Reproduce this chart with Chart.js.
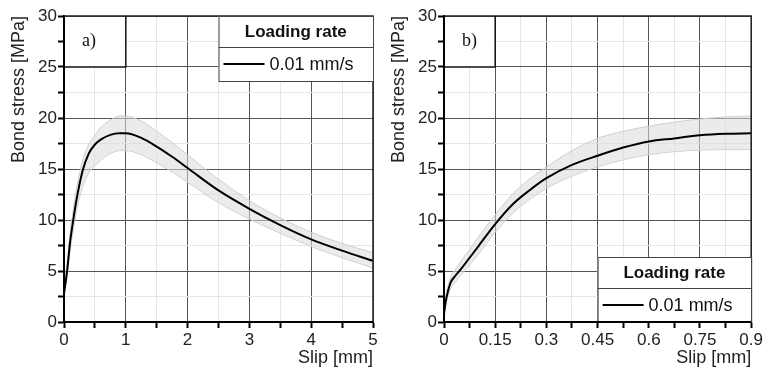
<!DOCTYPE html>
<html>
<head>
<meta charset="utf-8">
<script src="https://cdn.jsdelivr.net/npm/chart.js@4.4.0/dist/chart.umd.min.js"></script>
<style>
  body { margin: 0; background: #fff; }
  .wrap { display: flex; width: 765px; height: 370px; }
  canvas { display: block; }
</style>
</head>
<body>
<div class="wrap">
  <canvas id="chartA" width="380" height="370"></canvas>
  <canvas id="chartB" width="385" height="370"></canvas>
</div>
<script>
// panel a) - slip up to 5 mm
const slipA  = [0, 0.05, 0.1, 0.15, 0.2, 0.3, 0.4, 0.5, 0.6, 0.75, 0.9, 1.0, 1.25, 1.5, 1.75, 2.0, 2.5, 3.0, 3.5, 4.0, 4.5, 5.0];
const meanA  = [2.8, 5.0, 7.9, 10.0, 11.9, 14.8, 16.5, 17.4, 17.9, 18.35, 18.5, 18.5, 18.05, 17.2, 16.2, 15.1, 12.9, 11.1, 9.5, 8.1, 7.0, 6.0];
const upperA = [3.0, 5.8, 8.8, 11.0, 13.0, 15.8, 17.4, 18.3, 19.1, 19.8, 20.2, 20.2, 19.7, 18.7, 17.6, 16.4, 14.0, 11.9, 10.2, 8.8, 7.7, 6.8];
const lowerA = [2.6, 4.4, 7.0, 9.0, 10.8, 13.2, 14.6, 15.3, 15.9, 16.5, 16.8, 16.8, 16.4, 15.6, 14.7, 13.7, 11.7, 10.1, 8.7, 7.4, 6.3, 5.3];

// panel b) - slip up to 0.9 mm
const slipB  = [0, 0.005, 0.01, 0.02, 0.03, 0.05, 0.075, 0.1, 0.15, 0.2, 0.25, 0.3, 0.375, 0.45, 0.525, 0.6, 0.675, 0.75, 0.825, 0.9];
const meanB  = [0.8, 2.0, 2.8, 3.9, 4.4, 5.2, 6.3, 7.4, 9.6, 11.5, 12.9, 14.1, 15.4, 16.3, 17.1, 17.7, 18.0, 18.3, 18.45, 18.5];
const upperB = [1.0, 2.4, 3.3, 4.5, 5.0, 6.0, 7.1, 8.3, 10.5, 12.5, 14.0, 15.2, 16.8, 18.0, 18.7, 19.2, 19.6, 19.9, 20.1, 20.2];
const lowerB = [0.6, 1.6, 2.3, 3.3, 3.8, 4.6, 5.6, 6.6, 8.8, 10.6, 12.0, 13.1, 14.3, 15.2, 15.9, 16.4, 16.7, 16.85, 16.9, 16.9];

const legendTitle = 'Loading rate';
const legendLabel = '0.01 mm/s';
const xTitle = 'Slip [mm]';
const yTitle = 'Bond stress [MPa]';

const FONT = '"Liberation Sans", Arial, sans-serif';

const toPoints = (xs, ys) => xs.map((x, i) => ({x: x, y: ys[i]}));

const panelPlugin = {
  id: 'panel',
  afterDraw(chart, args, opts) {
    const {ctx, chartArea: area, scales} = chart;
    const xs = scales.x, ys = scales.y;
    ctx.save();

    // top + right frame
    ctx.strokeStyle = '#222';
    ctx.lineWidth = 1.5;
    ctx.beginPath();
    ctx.moveTo(area.left, area.top);
    ctx.lineTo(area.right, area.top);
    ctx.lineTo(area.right, area.bottom);
    ctx.stroke();

    // panel label cell
    const cx = xs.getPixelForValue(opts.cellX);
    const cy = ys.getPixelForValue(opts.cellY);
    ctx.fillStyle = '#fff';
    ctx.fillRect(area.left + 1, area.top + 1, cx - area.left - 1, cy - area.top - 1);
    ctx.strokeStyle = '#111';
    ctx.lineWidth = 1.5;
    ctx.beginPath();
    ctx.moveTo(area.left, cy);
    ctx.lineTo(cx, cy);
    ctx.lineTo(cx, area.top);
    ctx.stroke();
    ctx.fillStyle = '#111';
    ctx.font = '18px "Liberation Serif", serif';
    ctx.textAlign = 'left';
    ctx.textBaseline = 'middle';
    ctx.fillText(opts.label, area.left + 18, (area.top + cy) / 2);

    // legend box
    const lx = xs.getPixelForValue(opts.legendFrom);
    const h = 65, row = 31;
    const top = opts.legendAt === 'top' ? area.top : area.bottom - h;
    ctx.fillStyle = '#fff';
    ctx.fillRect(lx, top, area.right - lx, h);
    ctx.strokeStyle = '#444';
    ctx.lineWidth = 1;
    ctx.strokeRect(lx + 0.5, top + 0.5, area.right - lx, h);
    ctx.beginPath();
    ctx.moveTo(lx, top + row + 0.5);
    ctx.lineTo(area.right, top + row + 0.5);
    ctx.stroke();

    ctx.fillStyle = '#111';
    ctx.font = 'bold 17px ' + FONT;
    ctx.textAlign = 'center';
    ctx.fillText(legendTitle, (lx + area.right) / 2, top + row / 2 + 1);

    const ly = top + row + (h - row) / 2;
    ctx.strokeStyle = '#000';
    ctx.lineWidth = 2;
    ctx.beginPath();
    ctx.moveTo(lx + 5, ly);
    ctx.lineTo(lx + 46, ly);
    ctx.stroke();
    ctx.font = '18px ' + FONT;
    ctx.textAlign = 'left';
    ctx.fillText(legendLabel, lx + 51, ly + 1);

    // redraw axis lines on top
    ctx.strokeStyle = '#000';
    ctx.lineWidth = 2;
    ctx.beginPath();
    ctx.moveTo(area.left, area.top);
    ctx.lineTo(area.left, area.bottom);
    ctx.lineTo(area.right, area.bottom);
    ctx.stroke();
    ctx.restore();
  }
};

function makeChart(id, slip, mean, upper, lower, xOpts, panel, padRight) {
  const ctx = document.getElementById(id).getContext('2d');
  return new Chart(ctx, {
    type: 'line',
    data: {
      datasets: [{
        data: toPoints(slip, mean),
        borderColor: '#000',
        borderWidth: 2,
        pointRadius: 0,
        cubicInterpolationMode: 'monotone',
        fill: false
      }, {
        data: toPoints(slip, upper),
        borderColor: '#cfcfcf',
        borderWidth: 1,
        pointRadius: 0,
        cubicInterpolationMode: 'monotone',
        backgroundColor: 'rgba(218, 218, 218, 0.55)',
        fill: '+1'
      }, {
        data: toPoints(slip, lower),
        borderColor: '#cfcfcf',
        borderWidth: 1,
        pointRadius: 0,
        cubicInterpolationMode: 'monotone',
        fill: false
      }]
    },
    options: {
      responsive: false,
      animation: false,
      layout: { padding: { left: 0, right: padRight, top: 16, bottom: 0 } },
      plugins: {
        legend: { display: false },
        tooltip: { enabled: false },
        panel: panel
      },
      scales: {
        x: {
          type: 'linear',
          min: 0,
          max: xOpts.max,
          afterFit: (scale) => { scale.height = 48; },
          ticks: {
            stepSize: xOpts.step,
            autoSkip: false,
            maxRotation: 0,
            padding: 2,
            color: '#222',
            font: { family: FONT, size: 17 },
            callback: (value, index) => index % 2 === 0 ? String(+value.toFixed(3)) : ''
          },
          grid: {
            color: (c) => c.index % 2 === 0 ? '#555' : '#e6e6e6',
            tickColor: '#000',
            tickLength: 6,
            tickWidth: 2
          },
          border: { color: '#000', width: 2 },
          title: {
            display: true,
            text: xTitle,
            align: 'end',
            color: '#222',
            font: { family: FONT, size: 18 },
            padding: { top: 0, bottom: 1 }
          }
        },
        y: {
          min: 0,
          max: 30,
          afterFit: (scale) => { scale.width = 64; },
          ticks: {
            stepSize: 2.5,
            autoSkip: false,
            padding: 1,
            color: '#222',
            font: { family: FONT, size: 17 },
            callback: (value) => value % 5 === 0 ? String(value) : ''
          },
          grid: {
            color: (c) => c.tick && c.tick.value % 5 === 0 ? '#555' : '#e6e6e6',
            tickColor: '#000',
            tickLength: 6,
            tickWidth: 2
          },
          border: { color: '#000', width: 2 },
          title: {
            display: true,
            text: yTitle,
            align: 'end',
            color: '#222',
            font: { family: FONT, size: 18 },
            padding: { top: 8, bottom: 0 }
          }
        }
      }
    },
    plugins: [panelPlugin]
  });
}

makeChart('chartA', slipA, meanA, upperA, lowerA, { max: 5, step: 0.5 },
  { label: 'a)', cellX: 1, cellY: 25, legendFrom: 2.5, legendAt: 'top' }, 7);
makeChart('chartB', slipB, meanB, upperB, lowerB, { max: 0.9, step: 0.075 },
  { label: 'b)', cellX: 0.15, cellY: 25, legendFrom: 0.45, legendAt: 'bottom' }, 13);
</script>
</body>
</html>
